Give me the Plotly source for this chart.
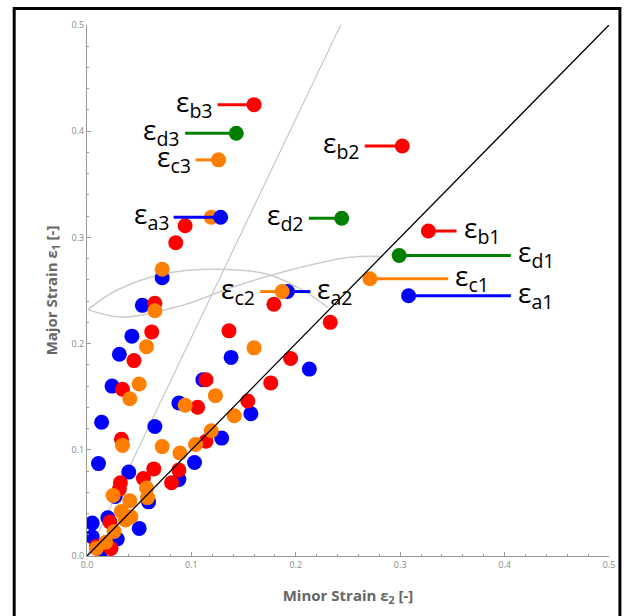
import plotly.graph_objects as go

# ---------------- data ----------------
blue_x = [0.024, 0.014, 0.011, 0.040, 0.065, 0.059, 0.027, 0.020, 0.050, 0.029, 0.005, 0.005, 0.015,
          0.053, 0.072, 0.043, 0.031, 0.088, 0.111, 0.138, 0.157, 0.129, 0.103, 0.088, 0.213]
blue_y = [0.160, 0.126, 0.087, 0.079, 0.122, 0.051, 0.056, 0.036, 0.026, 0.016, 0.031, 0.018, 0.005,
          0.236, 0.262, 0.207, 0.190, 0.144, 0.166, 0.187, 0.134, 0.111, 0.088, 0.072, 0.176]

red_x = [0.094, 0.085, 0.065, 0.062, 0.045, 0.034, 0.033, 0.064, 0.054, 0.032, 0.031, 0.022, 0.009,
         0.023, 0.106, 0.114, 0.136, 0.114, 0.081, 0.088, 0.154, 0.176, 0.195, 0.179, 0.233]
red_y = [0.311, 0.295, 0.238, 0.211, 0.184, 0.157, 0.110, 0.082, 0.073, 0.069, 0.063, 0.032, 0.009,
         0.007, 0.140, 0.166, 0.212, 0.108, 0.069, 0.081, 0.146, 0.163, 0.186, 0.237, 0.220]

orange_x = [0.072, 0.065, 0.057, 0.050, 0.041, 0.034, 0.072, 0.094, 0.123, 0.160, 0.141, 0.119, 0.104,
            0.089, 0.057, 0.058, 0.025, 0.041, 0.033, 0.042, 0.026, 0.018, 0.009, 0.037, 0.119]
orange_y = [0.270, 0.231, 0.197, 0.162, 0.148, 0.104, 0.103, 0.142, 0.151, 0.196, 0.132, 0.118, 0.105,
            0.097, 0.064, 0.055, 0.057, 0.052, 0.042, 0.037, 0.023, 0.013, 0.007, 0.034, 0.319]

# labelled points (drawn last, in this order)
label_ids = ["b3", "d3", "c3", "a3", "b2", "d2", "a2", "c2", "b1", "d1", "c1", "a1"]
label_x = [0.160, 0.143, 0.126, 0.128, 0.302, 0.244, 0.192, 0.187, 0.327, 0.299, 0.271, 0.308]
label_y = [0.425, 0.398, 0.373, 0.319, 0.386, 0.318, 0.249, 0.249, 0.306, 0.283, 0.261, 0.245]
label_line_x = [0.125, 0.094, 0.104, 0.083, 0.266, 0.2125, 0.214, 0.166, 0.354, 0.406, 0.346, 0.406]

# forming-limit style gray curves
curve_a_x = [0.001, 0.028, 0.075, 0.122, 0.170, 0.202, 0.231]
curve_a_y = [0.232, 0.250, 0.266, 0.270, 0.266, 0.253, 0.234]
curve_b_x = [0.001, 0.034, 0.091, 0.139, 0.186, 0.250, 0.283]
curve_b_y = [0.232, 0.225, 0.236, 0.253, 0.267, 0.281, 0.282]
gray_line_x = [0.0, 0.243]
gray_line_y = [0.0, 0.5]
diag_x = [0.0, 0.5]
diag_y = [0.0, 0.5]

tick_vals = [0.0, 0.1, 0.2, 0.3, 0.4, 0.5]
tick_text = ["0.0", "0.1", "0.2", "0.3", "0.4", "0.5"]

colors = {"a": "#0000ff", "b": "#ff0000", "c": "#ff8000", "d": "#008000"}

# ---------------- figure ----------------
fig = go.Figure()

for cx, cy in [(curve_a_x, curve_a_y), (curve_b_x, curve_b_y)]:
    fig.add_trace(go.Scatter(x=cx, y=cy, mode="lines", line=dict(color="#cccccc", width=1.5, shape="spline"),
                             hoverinfo="skip", showlegend=False))
fig.add_trace(go.Scatter(x=gray_line_x, y=gray_line_y, mode="lines", line=dict(color="#c8c8c8", width=1.2),
                         hoverinfo="skip", showlegend=False))

for xs, ys, c in [(blue_x, blue_y, colors["a"]), (red_x, red_y, colors["b"]), (orange_x, orange_y, colors["c"])]:
    fig.add_trace(go.Scatter(x=xs, y=ys, mode="markers", marker=dict(color=c, size=15, line=dict(width=0)),
                             showlegend=False))

annotations = []
for lid, px, py, lx in zip(label_ids, label_x, label_y, label_line_x):
    c = colors[lid[0]]
    fig.add_trace(go.Scatter(x=[lx, px], y=[py, py], mode="lines", line=dict(color=c, width=3),
                             showlegend=False, hoverinfo="skip"))
    fig.add_trace(go.Scatter(x=[px], y=[py], mode="markers", marker=dict(color=c, size=15, line=dict(width=0)),
                             showlegend=False))
    left = lx < px
    annotations.append(dict(
        x=lx, y=py, xref="x", yref="y", showarrow=False,
        text="ε<sub>%s</sub>" % lid,
        xanchor="right" if left else "left", yanchor="middle",
        xshift=-3 if left else 5, yshift=2,
        font=dict(family="Open Sans", size=28, color="black"),
    ))

fig.add_trace(go.Scatter(x=diag_x, y=diag_y, mode="lines", line=dict(color="black", width=1.3),
                         hoverinfo="skip", showlegend=False))

axis_common = dict(
    range=[0, 0.5], tickvals=tick_vals, ticktext=tick_text,
    ticks="inside", ticklen=4, tickwidth=1, tickcolor="#999999",
    minor=dict(dtick=0.02, ticks="inside", ticklen=2, tickcolor="#999999"),
    showgrid=False, zeroline=False, showline=True, linecolor="#999999", linewidth=1,
    tickfont=dict(family="Open Sans", size=9, color="#8a8a8a"),
)

fig.update_layout(
    width=627, height=616,
    margin=dict(l=87, r=13, t=25, b=60),
    paper_bgcolor="white", plot_bgcolor="white",
    xaxis=dict(**axis_common,
               title=dict(text="<b>Minor Strain ε<sub>2</sub> [-]</b>", standoff=20,
                          font=dict(family="Open Sans", size=15, color="#666666"))),
    yaxis=dict(**axis_common,
               title=dict(text="<b>Major Strain ε<sub>1</sub> [-]</b>", standoff=10,
                          font=dict(family="Open Sans", size=15, color="#666666"))),
    annotations=annotations,
    shapes=[dict(type="rect", xref="paper", yref="paper",
                 x0=-0.1395, x1=1.0209, y0=-0.2, y1=1.0311,
                 line=dict(color="black", width=3), fillcolor="rgba(0,0,0,0)")],
)

# remove the default page margin so the 627x616 figure fills the window exactly
fig.write_html("out.html",
               config={"displayModeBar": False, "staticPlot": True},
               post_script="document.body.style.margin='0';document.body.style.overflow='hidden';")
